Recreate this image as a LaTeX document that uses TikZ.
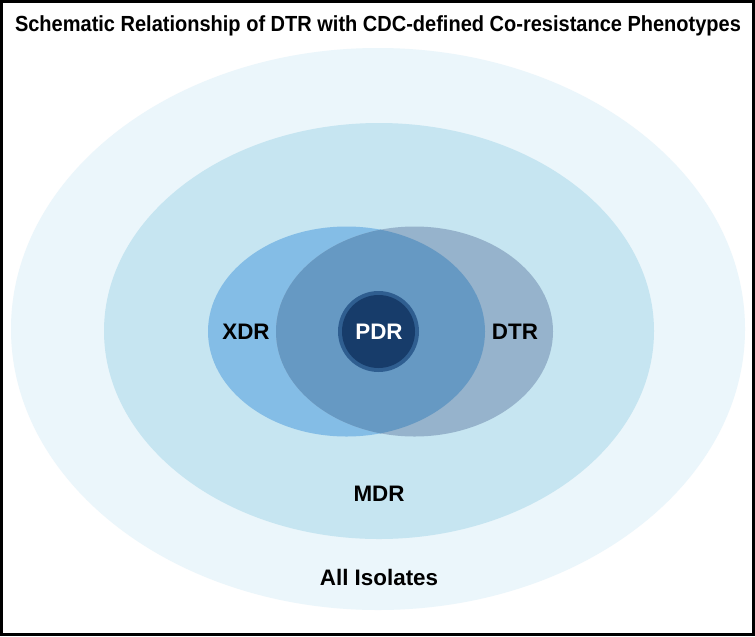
\documentclass[tikz,border=0pt]{standalone}
\usepackage{fontspec}
\setmainfont{Liberation Sans}
\usepackage{tikz}
\definecolor{allfill}{HTML}{EBF6FB}
\definecolor{mdrfill}{HTML}{C6E5F1}
\definecolor{xdrfill}{HTML}{84BDE6}
\definecolor{dtrfill}{HTML}{96B3CC}
\definecolor{bothfill}{HTML}{6699C3}
\definecolor{pdrfill}{HTML}{173C6A}
\definecolor{pdrring}{HTML}{2F5E90}

\begin{document}
\begin{tikzpicture}[x=0.75pt, y=-0.75pt,
		lab/.style={font=\fontsize{16.8pt}{20pt}\selectfont\bfseries, text=black},
		ttl/.style={font=\fontsize{16.4pt}{20pt}\selectfont\bfseries, xscale=0.915}]
			%%%%% START %%%%%
			
			\useasboundingbox (0, 0) rectangle (755, 636);
			\fill[white] (0, 0) rectangle (755, 636);
			
			\fill[allfill] (378, 329) ellipse [x radius=367, y radius=281];
			\fill[mdrfill] (379, 331) ellipse [x radius=275, y radius=208];
			
			\fill[xdrfill] (346.5, 331.5) ellipse [x radius=138.5, y radius=105];
			\fill[dtrfill] (414.5, 331.5) ellipse [x radius=138.5, y radius=105];
			\begin{scope}
				\clip (346.5, 331.5) ellipse [x radius=138.5, y radius=105];
				\fill[bothfill] (414.5, 331.5) ellipse [x radius=138.5, y radius=105];
			\end{scope}
			
			\fill[pdrring] (378.5, 331.5) circle (40.5);
			\fill[pdrfill] (378.5, 331.5) circle (36.5);
			
			\node[ttl] (title) at (378, 26) {Schematic Relationship of DTR with CDC-defined Co-resistance Phenotypes};
			\node[lab] (xdr) at (246, 332) {XDR};
			\node[lab] (dtr) at (515, 332) {DTR};
			\node[lab, text=white] (pdr) at (379, 332) {PDR};
			\node[lab] (mdr) at (379, 494) {MDR};
			\node[lab] (all) at (379, 577) {All Isolates};
			
			\draw[line width=3pt*0.75, black] (1.5, 1.5) rectangle (753.5, 634.5);
			
			%%%%% END %%%%%
		\end{tikzpicture}
\end{document}
